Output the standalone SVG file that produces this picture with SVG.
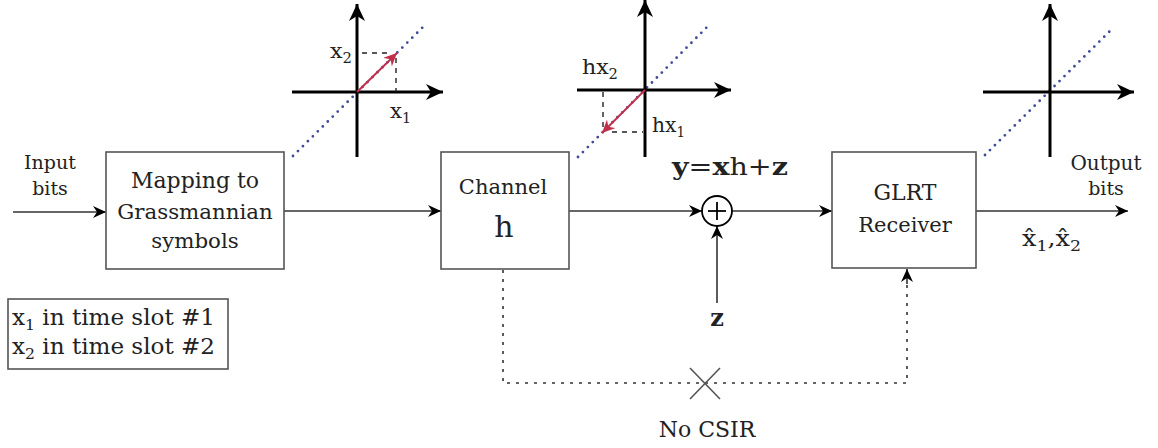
<svg xmlns="http://www.w3.org/2000/svg" width="1158" height="448" viewBox="0 0 1158 448">
<style>
text{font-family:"DejaVu Serif","Liberation Serif",serif;fill:#222}
.box{fill:#fff;stroke:#555;stroke-width:1.6}
.wire{fill:none;stroke:#333;stroke-width:1.6}
.ax{fill:none;stroke:#000;stroke-width:3}
.dots{fill:none;stroke:#3f4a9a;stroke-width:2.8;stroke-linecap:round;stroke-dasharray:0 7}
.guide{fill:none;stroke:#222;stroke-width:1.4;stroke-dasharray:5 5}
.vec{fill:none;stroke:#c0304a;stroke-width:2}
.csir{fill:none;stroke:#333;stroke-width:1.6;stroke-dasharray:3 6}
.b{font-weight:bold}
</style>
<defs>
<marker id="arr" markerUnits="userSpaceOnUse" markerWidth="14" markerHeight="12" refX="13" refY="6" orient="auto">
<path d="M0,0 L13,6 L0,12 L4,6 z" fill="#000"/>
</marker>
<marker id="axarr" markerUnits="userSpaceOnUse" markerWidth="18" markerHeight="16" refX="17" refY="8" orient="auto">
<path d="M0,0 L17,8 L0,16 L5,8 z" fill="#000"/>
</marker>
<marker id="redarr" markerUnits="userSpaceOnUse" markerWidth="14" markerHeight="12" refX="13" refY="6" orient="auto">
<path d="M0,0 L13,6 L0,12 L4,6 z" fill="#c0304a"/>
</marker>
</defs>

<g id="axes1">
<line class="dots" x1="293" y1="156" x2="423" y2="27"/>
<line class="ax" x1="357" y1="157" x2="357" y2="4" marker-end="url(#axarr)"/>
<line class="ax" x1="292" y1="92" x2="443" y2="92" marker-end="url(#axarr)"/>
<line class="guide" x1="362" y1="53" x2="392" y2="53"/>
<line class="guide" x1="396" y1="58" x2="396" y2="92"/>
<line class="vec" x1="357" y1="92" x2="397" y2="53" marker-end="url(#redarr)"/>
<text x="330" y="58" font-size="21" textLength="22" lengthAdjust="spacingAndGlyphs">x<tspan font-size="14" dy="5">2</tspan></text>
<text x="390" y="118" font-size="21" textLength="21" lengthAdjust="spacingAndGlyphs">x<tspan font-size="14" dy="5">1</tspan></text>
</g>

<g id="axes2">
<line class="dots" x1="578" y1="157" x2="711" y2="23"/>
<line class="ax" x1="645" y1="157" x2="645" y2="0" marker-end="url(#axarr)"/>
<line class="ax" x1="577" y1="90" x2="731" y2="90" marker-end="url(#axarr)"/>
<line class="guide" x1="603" y1="92" x2="603" y2="128"/>
<line class="guide" x1="612" y1="132" x2="643" y2="132"/>
<line class="vec" x1="645" y1="90" x2="602" y2="133" marker-end="url(#redarr)"/>
<text x="582" y="74" font-size="21" textLength="36" lengthAdjust="spacingAndGlyphs">hx<tspan font-size="14" dy="5">2</tspan></text>
<text x="652" y="132" font-size="21" textLength="33" lengthAdjust="spacingAndGlyphs">hx<tspan font-size="14" dy="5">1</tspan></text>
</g>

<g id="axes3">
<line class="dots" x1="985" y1="155" x2="1113" y2="28"/>
<line class="ax" x1="1050" y1="157" x2="1050" y2="4" marker-end="url(#axarr)"/>
<line class="ax" x1="983" y1="92" x2="1134" y2="92" marker-end="url(#axarr)"/>
</g>

<g id="connectors">
<line class="wire" x1="13" y1="212" x2="106" y2="212" marker-end="url(#arr)"/>
<line class="wire" x1="284" y1="211" x2="441" y2="211" marker-end="url(#arr)"/>
<line class="wire" x1="569" y1="211" x2="702" y2="211" marker-end="url(#arr)"/>
<line class="wire" x1="732" y1="211" x2="832" y2="211" marker-end="url(#arr)"/>
<line class="wire" x1="717" y1="303" x2="717" y2="226" marker-end="url(#arr)"/>
<line class="wire" x1="976" y1="211" x2="1128" y2="211" marker-end="url(#arr)"/>
<path class="csir" d="M503,270 L503,383 L907,383 L907,284"/>
<line class="wire" x1="907" y1="284" x2="907" y2="269" marker-end="url(#arr)"/>
</g>

<g id="input-label">
<text x="50" y="169" font-size="19" text-anchor="middle"><tspan>Input</tspan></text>
<text x="50" y="195" font-size="19" text-anchor="middle"><tspan>bits</tspan></text>
</g>

<g id="mapping">
<rect class="box" x="106" y="152" width="178" height="117"/>
<text x="195" y="188" font-size="22" text-anchor="middle"><tspan>Mapping to</tspan></text>
<text x="195" y="219" font-size="21.3" text-anchor="middle"><tspan>Grassmannian</tspan></text>
<text x="195" y="248" font-size="21.3" text-anchor="middle"><tspan>symbols</tspan></text>
</g>

<g id="legend">
<rect class="box" x="8" y="299" width="220" height="70"/>
<text x="12" y="325" font-size="22" textLength="203" lengthAdjust="spacingAndGlyphs">x<tspan font-size="15" dy="5">1</tspan><tspan dy="-5"> in time slot #1</tspan></text>
<text x="12" y="354" font-size="22" textLength="203" lengthAdjust="spacingAndGlyphs">x<tspan font-size="15" dy="5">2</tspan><tspan dy="-5"> in time slot #2</tspan></text>
</g>

<g id="channel">
<rect class="box" x="441" y="152" width="128" height="117"/>
<text x="503" y="194" font-size="21" text-anchor="middle"><tspan>Channel</tspan></text>
<text x="504" y="237" font-size="30" text-anchor="middle">h</text>
</g>

<g id="sum">
<circle cx="717" cy="211" r="15" fill="#fff" stroke="#000" stroke-width="1.8"/>
<line x1="708" y1="211" x2="726" y2="211" stroke="#000" stroke-width="1.8"/>
<line x1="717" y1="202" x2="717" y2="220" stroke="#000" stroke-width="1.8"/>
<text x="730" y="175" font-size="24" text-anchor="middle" textLength="116" lengthAdjust="spacingAndGlyphs"><tspan class="b">y</tspan>=<tspan class="b">x</tspan>h+<tspan class="b">z</tspan></text>
<text x="717" y="326" font-size="24" text-anchor="middle" class="b">z</text>
</g>

<g id="glrt">
<rect class="box" x="832" y="152" width="144" height="116"/>
<text x="905" y="200" font-size="22" text-anchor="middle"><tspan>GLRT</tspan></text>
<text x="905" y="232" font-size="21" text-anchor="middle"><tspan>Receiver</tspan></text>
</g>

<g id="output-label">
<text x="1106" y="170" font-size="20" text-anchor="middle"><tspan>Output</tspan></text>
<text x="1106" y="195" font-size="19" text-anchor="middle"><tspan>bits</tspan></text>
<text x="1022" y="246" font-size="22" textLength="59" lengthAdjust="spacingAndGlyphs">x̂<tspan font-size="15" dy="5">1</tspan><tspan dy="-5">,x̂</tspan><tspan font-size="15" dy="5">2</tspan></text>
</g>

<g id="no-csir">
<line x1="690" y1="368" x2="720" y2="399" stroke="#555" stroke-width="1.6"/>
<line x1="720" y1="368" x2="690" y2="399" stroke="#555" stroke-width="1.6"/>
<text x="707" y="437" font-size="22" text-anchor="middle"><tspan>No CSIR</tspan></text>
</g>
</svg>
